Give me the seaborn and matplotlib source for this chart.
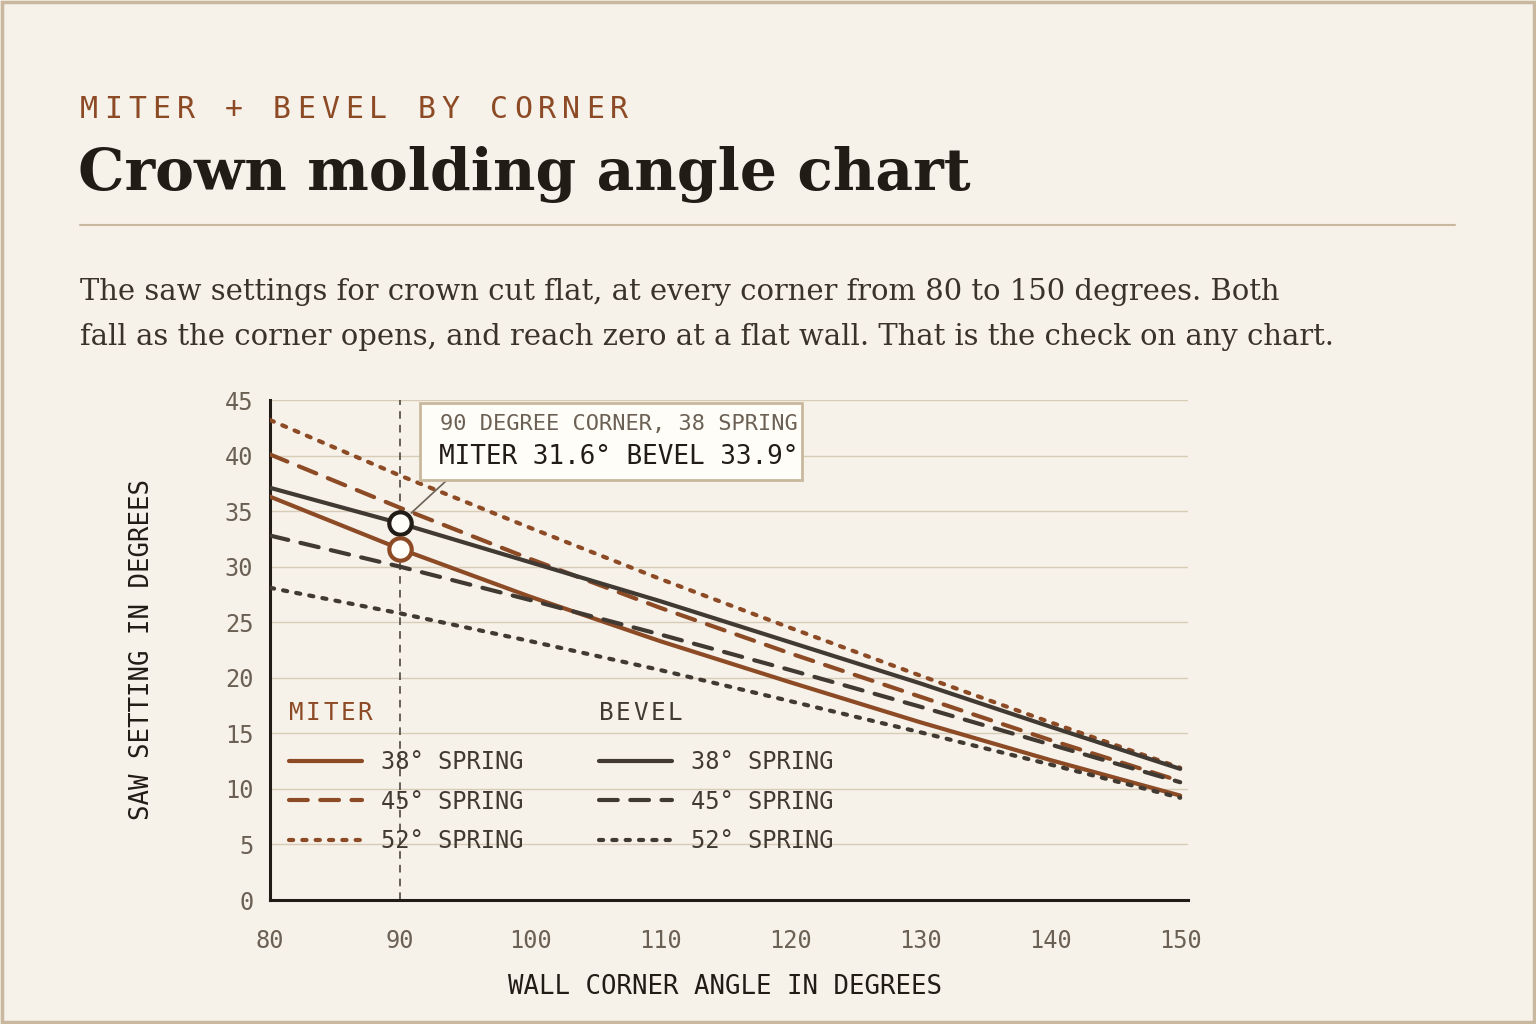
import pandas as pd
import seaborn as sns
import matplotlib.pyplot as plt
from matplotlib.lines import Line2D
from matplotlib.patches import Rectangle

# Data (saw settings in degrees)
corner = [80, 90, 100, 110, 120, 130, 140, 150]
miter_38 = [36.3, 31.6, 27.3, 23.3, 19.6, 16.0, 12.6, 9.4]
miter_45 = [40.1, 35.3, 30.7, 26.3, 22.2, 18.3, 14.4, 10.7]
miter_52 = [43.2, 38.2, 33.5, 28.9, 24.5, 20.2, 16.0, 11.9]
bevel_38 = [37.1, 33.9, 30.4, 26.9, 23.2, 19.5, 15.6, 11.8]
bevel_45 = [32.8, 30.0, 27.0, 23.9, 20.7, 17.4, 14.0, 10.6]
bevel_52 = [28.1, 25.8, 23.3, 20.7, 17.9, 15.1, 12.2, 9.2]
springs = ["38° SPRING", "45° SPRING", "52° SPRING"]
y_ticks = [0, 5, 10, 15, 20, 25, 30, 35, 40, 45]
x_ticks = [80, 90, 100, 110, 120, 130, 140, 150]

BG = "#f6f1e9"
BROWN = "#8c4a25"
DARK = "#403a33"
INK = "#221c17"
TICK = "#6b6054"
GRID = "#d9ccb7"
TAN = "#c9b89e"
MONO = "DejaVu Sans Mono"
SERIF = "DejaVu Serif"

series = {
    ("MITER", springs[0]): miter_38,
    ("MITER", springs[1]): miter_45,
    ("MITER", springs[2]): miter_52,
    ("BEVEL", springs[0]): bevel_38,
    ("BEVEL", springs[1]): bevel_45,
    ("BEVEL", springs[2]): bevel_52,
}
rows = []
for (kind, spring), vals in series.items():
    for c, v in zip(corner, vals):
        rows.append({"kind": kind, "spring": spring, "corner": c, "angle": v})
df = pd.DataFrame(rows)

sns.set_theme(style="white")
plt.rcParams["font.family"] = [MONO, "DejaVu Sans"]

W, H = 1536, 1024
fig = plt.figure(figsize=(W / 100, H / 100), dpi=100, facecolor=BG)
ax = fig.add_axes([270 / W, 1 - 900 / H, 918 / W, 500 / H])
ax.set_facecolor(BG)

palette = {"MITER": BROWN, "BEVEL": DARK}
dash_map = {springs[0]: "", springs[1]: (4.5, 3), springs[2]: (1, 2.2)}
LW = 3.0

sns.lineplot(data=df, x="corner", y="angle", hue="kind", style="spring",
             palette=palette, dashes=dash_map, linewidth=LW, legend=False,
             ax=ax, zorder=3)
for line in ax.lines:
    line.set_dash_capstyle("round")
    line.set_solid_capstyle("round")

# 90 degree reference line
ax.axvline(90, color=DARK, lw=1.1, dashes=(5, 4), zorder=2)

# highlighted points at 90 degrees, 38 spring
i90 = corner.index(90)
sns.scatterplot(x=[90], y=[bevel_38[i90]], s=260, color="#fffdf8",
                edgecolor=INK, linewidth=3.0, zorder=5, ax=ax)
sns.scatterplot(x=[90], y=[miter_38[i90]], s=260, color="#fffdf8",
                edgecolor=BROWN, linewidth=3.0, zorder=5, ax=ax)

ax.set_xlim(80, 150.6)
ax.set_ylim(0, 45)
ax.set_xticks(x_ticks)
ax.set_yticks(y_ticks)
ax.grid(axis="y", color=GRID, lw=1.0)
ax.grid(axis="x", visible=False)
ax.set_axisbelow(True)
for s in ["top", "right"]:
    ax.spines[s].set_visible(False)
for s in ["left", "bottom"]:
    ax.spines[s].set_color(INK)
    ax.spines[s].set_linewidth(2.2)
ax.tick_params(axis="y", length=0, pad=12, labelsize=17, labelcolor=TICK)
ax.tick_params(axis="x", length=8, width=1.3, color=DARK, pad=13,
               labelsize=17, labelcolor=TICK, direction="out")

ax.set_xlabel("WALL CORNER ANGLE IN DEGREES", fontsize=18.5, color=INK)
ax.set_ylabel("SAW SETTING IN DEGREES", fontsize=18.5, color=INK)
ax.xaxis.label.set_va("center")
ax.yaxis.label.set_va("center")
ax.xaxis.set_label_coords((725 - 270) / 918, (900 - 987) / 500)
ax.yaxis.set_label_coords((142 - 270) / 918, 0.5)

# two legends, no frame, with spaced-out headers
def legend_for(kind, color, x0):
    handles = [Line2D([], [], color=color, lw=LW, dashes=dash_map[sp] or (None, None),
                      dash_capstyle="round", solid_capstyle="round") for sp in springs]
    leg = ax.legend(handles, springs, loc="upper left",
                    bbox_to_anchor=(x0, (900 - 750) / 500), frameon=False,
                    borderpad=0, borderaxespad=0, handlelength=3.1,
                    handletextpad=0.8, labelspacing=0.66, fontsize=17)
    for t in leg.get_texts():
        t.set_color(DARK)
    hx = 270 + x0 * 918
    for i, ch in enumerate(kind):
        ax.text((hx + 7 + i * 17.2 - 270) / 918, (900 - 713) / 500, ch,
                transform=ax.transAxes, fontsize=17.5, color=color,
                ha="center", va="center")
    return leg

ax.add_artist(legend_for("MITER", BROWN, (289 - 270) / 918))
legend_for("BEVEL", DARK, (599 - 270) / 918)

# callout
ax.annotate("", xy=(90, bevel_38[i90]), xytext=(447 / W, 1 - 480 / H),
            textcoords="figure fraction",
            arrowprops=dict(arrowstyle="-", color="#6b6054", lw=1.2,
                            shrinkA=0, shrinkB=11), zorder=6)
fig.patches.append(Rectangle((420 / W, 1 - 480 / H), 382 / W, 77 / H,
                             transform=fig.transFigure, facecolor="#fffdf8",
                             edgecolor=TAN, lw=2, zorder=7))
fig.text(440 / W, 1 - 424 / H, "90 DEGREE CORNER, 38 SPRING", fontsize=15.8,
         color=TICK, va="center", zorder=8)
fig.text(439 / W, 1 - 457 / H,
         f"MITER {miter_38[i90]:.1f}° BEVEL {bevel_38[i90]:.1f}°",
         fontsize=18.7, color=INK, va="center", zorder=8)

# header
kicker = "MITER + BEVEL BY CORNER"
for i, ch in enumerate(kicker):
    fig.text((89 + i * 24.1) / W, 1 - 110 / H, ch, fontsize=21.5, color=BROWN,
             ha="center", va="center")
fig.text(78 / W, 1 - 190 / H, "Crown molding angle chart", family=SERIF,
         fontweight="bold", fontsize=42, color=INK, va="baseline")
fig.add_artist(Line2D([80 / W, 1455 / W], [1 - 225 / H, 1 - 225 / H],
                      color=TAN, lw=1.5, transform=fig.transFigure))
fig.text(80 / W, 1 - 300 / H,
         "The saw settings for crown cut flat, at every corner from 80 to 150 degrees. Both",
         family=SERIF, fontsize=20.9, color="#3a332c", va="baseline")
fig.text(80 / W, 1 - 345 / H,
         "fall as the corner opens, and reach zero at a flat wall. That is the check on any chart.",
         family=SERIF, fontsize=20.9, color="#3a332c", va="baseline")

# outer border
fig.patches.append(Rectangle((0.001, 0.0015), 0.998, 0.997, transform=fig.transFigure,
                             fill=False, edgecolor=TAN, lw=2.5))

fig.savefig("out.png", dpi=100, facecolor=BG)
